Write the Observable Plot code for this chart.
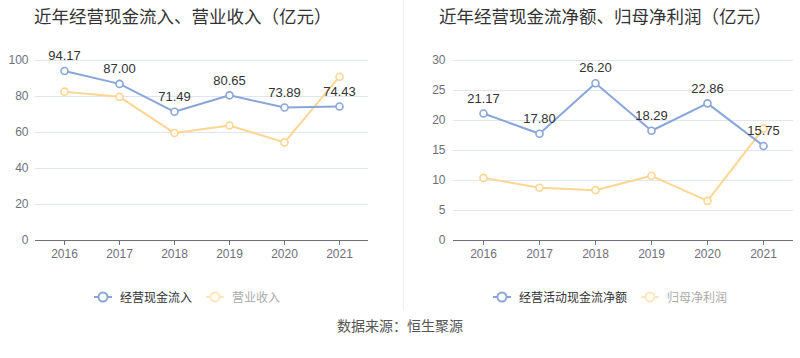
<!DOCTYPE html>
<html>
<head>
<meta charset="utf-8">
<script src="https://cdn.jsdelivr.net/npm/d3@7"></script>
<script src="https://cdn.jsdelivr.net/npm/@observablehq/plot@0.6"></script>
<style>
  body { margin: 0; background: #fff; }
  #root { position: relative; width: 800px; height: 358px; background: #fff; overflow: hidden;
          font-family: "Liberation Sans", "Noto Sans CJK SC", sans-serif; }
  .title { position: absolute; top: 3px; font-size: 17.5px; color: #333; white-space: nowrap;
           font-family: "Noto Sans CJK SC", "Liberation Sans", sans-serif; }
  .chart { position: absolute; top: 40px; }
  .divider { position: absolute; left: 403px; top: 0; width: 1px; height: 310px; background: #eeeeee; }
  .legend { position: absolute; top: 288px; font-size: 12px; white-space: nowrap; display: flex; align-items: center;
            font-family: "Noto Sans CJK SC", sans-serif; }
  .legend .item { display: flex; align-items: center; margin-right: 14px; }
  .legend svg { margin-right: 8px; }
  .source { position: absolute; top: 315px; left: 0; width: 800px; text-align: center; font-size: 14px; color: #555;
            font-family: "Noto Sans CJK SC", sans-serif; }
</style>
</head>
<body>
<div id="root">
  <div class="title" style="left:34px">近年经营现金流入、营业收入（亿元）</div>
  <div class="title" style="left:439px">近年经营现金流净额、归母净利润（亿元）</div>
  <div class="divider"></div>
  <div id="c1" class="chart" style="left:0px"></div>
  <div id="c2" class="chart" style="left:400px"></div>
  <div id="lg1" class="legend" style="left:94px"></div>
  <div id="lg2" class="legend" style="left:493px"></div>
  <div class="source">数据来源：恒生聚源</div>
</div>
<script>
const years = ["2016", "2017", "2018", "2019", "2020", "2021"];

// Left chart
const cashInflow = [94.17, 87.00, 71.49, 80.65, 73.89, 74.43];
const revenue = [82.7, 79.8, 59.7, 63.9, 54.5, 91.0];
const leftTicks = [0, 20, 40, 60, 80, 100];
const leftNames = ["经营现金流入", "营业收入"];

// Right chart
const netCashFlow = [21.17, 17.80, 26.20, 18.29, 22.86, 15.75];
const netProfit = [10.44, 8.78, 8.39, 10.78, 6.61, 18.67];
const rightTicks = [0, 5, 10, 15, 20, 25, 30];
const rightNames = ["经营活动现金流净额", "归母净利润"];

const BLUE = "#89a6da";
const ORANGE = "#ffd592";
const AXIS = "#6e7079";

function makeChart(blueVals, orangeVals, ticks, opts) {
  const blue = years.map((y, i) => ({year: y, value: blueVals[i]}));
  const orange = years.map((y, i) => ({year: y, value: orangeVals[i]}));
  return Plot.plot({
    width: 400,
    height: 230,
    marginTop: 20,
    marginBottom: 30,
    marginLeft: opts.ml,
    marginRight: opts.mr,
    style: {fontFamily: '"Liberation Sans", "Noto Sans CJK SC", sans-serif', fontSize: "12px", background: "transparent"},
    x: {type: "point", domain: years, padding: 0.5, label: null},
    y: {domain: [ticks[0], ticks[ticks.length - 1]], label: null},
    marks: [
      Plot.gridY(ticks.filter(d => d > 0), {stroke: "#e0e6f1", strokeOpacity: 1, strokeWidth: 1}),
      Plot.axisY({ticks: ticks, tickSize: 0, tickPadding: opts.tp, fill: AXIS, fontSize: 12, label: null}),
      Plot.ruleY([0], {stroke: AXIS, strokeWidth: 1}),
      Plot.axisX({tickSize: 5, tickPadding: 4, stroke: AXIS, fill: AXIS, fontSize: 12, label: null}),
      Plot.line(orange, {x: "year", y: "value", stroke: ORANGE, strokeWidth: 2}),
      Plot.dot(orange, {x: "year", y: "value", r: 3.5, fill: "#fff", stroke: ORANGE, strokeWidth: 1.6}),
      Plot.line(blue, {x: "year", y: "value", stroke: BLUE, strokeWidth: 2}),
      Plot.dot(blue, {x: "year", y: "value", r: 3.5, fill: "#fff", stroke: BLUE, strokeWidth: 1.6}),
      Plot.text(blue, {x: "year", y: "value", text: d => d.value.toFixed(2), dy: -15, fill: "#333", fontSize: 13})
    ]
  });
}

document.getElementById("c1").appendChild(makeChart(cashInflow, revenue, leftTicks, {ml: 35, mr: 32, tp: 7}));
document.getElementById("c2").appendChild(makeChart(netCashFlow, netProfit, rightTicks, {ml: 53, mr: 7, tp: 8}));

function symbol(color) {
  return `<svg width="18" height="12" viewBox="0 0 18 12"><line x1="0" y1="6" x2="18" y2="6" stroke="${color}" stroke-width="2"/><circle cx="9" cy="6" r="4.5" fill="#fff" stroke="${color}" stroke-width="2"/></svg>`;
}
function legend(id, names) {
  const el = document.getElementById(id);
  el.innerHTML =
    `<div class="item">${symbol(BLUE)}<span style="color:#333">${names[0]}</span></div>` +
    `<div class="item">${symbol("#ffe6bd")}<span style="color:#aaa">${names[1]}</span></div>`;
}
legend("lg1", leftNames);
legend("lg2", rightNames);
</script>
</body>
</html>
